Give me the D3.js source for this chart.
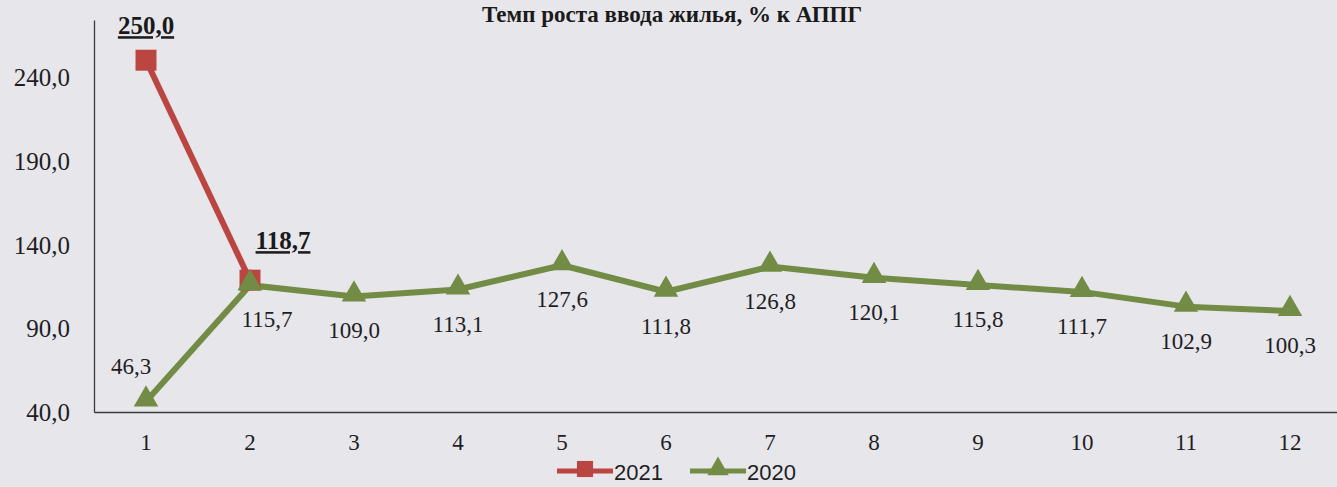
<!DOCTYPE html>
<html>
<head>
<meta charset="utf-8">
<script src="https://cdn.jsdelivr.net/npm/d3@7/dist/d3.min.js"></script>
<style>
  html, body { margin: 0; padding: 0; background: #e7e6eb; }
  svg { display: block; }
</style>
</head>
<body>
<svg id="chart" width="1337" height="487"></svg>
<script>
const months = ["1","2","3","4","5","6","7","8","9","10","11","12"];
const series2021 = [250.0, 118.7];
const series2020 = [46.3, 115.7, 109.0, 113.1, 127.6, 111.8, 126.8, 120.1, 115.8, 111.7, 102.9, 100.3];
const yTicks = [40, 90, 140, 190, 240];
const seriesNames = ["2021", "2020"];
const titleText = "Темп роста ввода жилья, % к АППГ";

const W = 1337, H = 487;
const margin = { left: 94, top: 20, bottom: 75 };
const red = "#bb4541", green = "#738c45";
const serif = "'Liberation Serif', 'Times New Roman', serif";
const fmt = v => v.toFixed(1).replace(".", ",");

const svg = d3.select("#chart");
svg.append("rect").attr("width", W).attr("height", H).attr("fill", "#e7e6eb");

const x = d3.scaleBand().domain(months).range([margin.left, margin.left + 12 * 104]);
const y = d3.scaleLinear().domain([40, 274]).range([412, margin.top]);
const cx = m => x(m) + x.bandwidth() / 2;

// title
svg.append("text").attr("x", 672).attr("y", 22).attr("text-anchor", "middle")
  .style("font-family", serif)
  .attr("font-weight", "bold").attr("font-size", 23).attr("fill", "#1a1a1a")
  .text(titleText);

// y axis
const yAxis = d3.axisLeft(y).tickValues(yTicks).tickFormat(fmt).tickSize(0).tickPadding(24);
const gy = svg.append("g").attr("transform", `translate(${margin.left},0)`).call(yAxis);
gy.select(".domain").attr("stroke", "#3a3a40").attr("stroke-width", 1.3);
gy.selectAll("text").style("font-family", serif)
  .attr("font-size", 25).attr("fill", "#1e1e24").attr("dy", "0.35em");

// x axis
const xAxis = d3.axisBottom(x).tickSize(0).tickPadding(22);
const gx = svg.append("g").attr("transform", `translate(0,${y(40)})`).call(xAxis);
gx.select(".domain").attr("stroke", "#3a3a40").attr("stroke-width", 1.3);
gx.selectAll("text").style("font-family", serif)
  .attr("font-size", 23).attr("fill", "#1e1e24");

const line = d3.line().x((d, i) => cx(months[i])).y(d => y(d));

svg.append("path").datum(series2020).attr("d", line)
  .attr("fill", "none").attr("stroke", green).attr("stroke-width", 6).attr("stroke-linejoin", "round");
svg.append("path").datum(series2021).attr("d", line)
  .attr("fill", "none").attr("stroke", red).attr("stroke-width", 6).attr("stroke-linejoin", "round");

const tri = d3.symbol().type(d3.symbolTriangle).size(260);
const sq = d3.symbol().type(d3.symbolSquare).size(440);

svg.selectAll(".m20").data(series2020).join("path")
  .attr("d", tri).attr("fill", green)
  .attr("transform", (d, i) => `translate(${cx(months[i])},${y(d) - 2})`);
svg.selectAll(".m21").data(series2021).join("path")
  .attr("d", sq).attr("fill", red)
  .attr("transform", (d, i) => `translate(${cx(months[i])},${y(d)})`);
svg.append("path").attr("d", tri).attr("fill", green)
  .attr("transform", `translate(${cx(months[1])},${y(series2020[1]) - 2})`);

// 2020 labels
svg.selectAll(".l20").data(series2020).join("text")
  .attr("x", (d, i) => i === 0 ? cx(months[i]) - 15 : (i === 1 ? cx(months[i]) + 17 : cx(months[i])))
  .attr("y", (d, i) => i === 0 ? y(d) - 27 : y(d) + 42)
  .attr("text-anchor", "middle")
  .style("font-family", serif)
  .attr("font-size", 23).attr("fill", "#1e1e24")
  .text(d => fmt(d));

// 2021 labels (bold, underlined)
svg.selectAll(".l21").data(series2021).join("text")
  .attr("x", (d, i) => i === 0 ? cx(months[i]) : cx(months[i]) + 33)
  .attr("y", (d, i) => i === 0 ? y(d) - 26 : y(d) - 31)
  .attr("text-anchor", "middle")
  .style("font-family", serif)
  .attr("font-weight", "bold").attr("font-size", 25).attr("fill", "#1a1a1a")
  .attr("text-decoration", "underline")
  .text(d => fmt(d));

// legend
const leg = svg.append("g");
const items = [
  { name: seriesNames[0], color: red, sym: d3.symbol().type(d3.symbolSquare).size(260), x0: 557 },
  { name: seriesNames[1], color: green, sym: d3.symbol().type(d3.symbolTriangle).size(200), x0: 690 }
];
items.forEach(it => {
  leg.append("line").attr("x1", it.x0).attr("x2", it.x0 + 56).attr("y1", 471).attr("y2", 471)
    .attr("stroke", it.color).attr("stroke-width", 5);
  leg.append("path").attr("d", it.sym).attr("fill", it.color)
    .attr("transform", `translate(${it.x0 + 28},${469})`);
  leg.append("text").attr("x", it.x0 + 57).attr("y", 480)
    .style("font-family", "'Liberation Sans', Arial, sans-serif").attr("font-size", 22)
    .attr("fill", "#1e1e24").text(it.name);
});
</script>
</body>
</html>
